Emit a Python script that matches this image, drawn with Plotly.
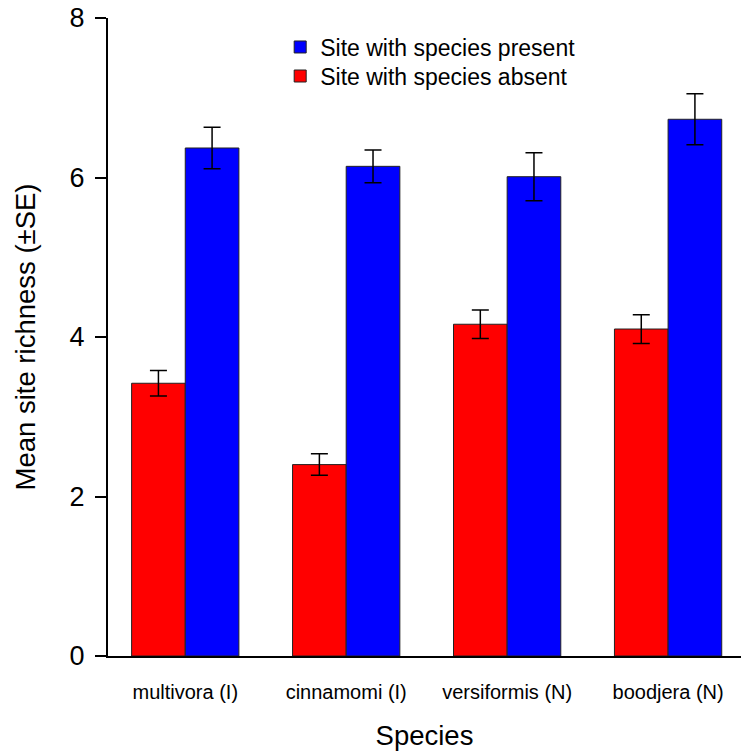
import plotly.graph_objects as go

species = ["multivora (I)", "cinnamomi (I)", "versiformis (N)", "boodjera (N)"]
absent_mean = [3.42, 2.40, 4.16, 4.10]
absent_se = [0.16, 0.135, 0.18, 0.18]
present_mean = [6.37, 6.14, 6.01, 6.73]
present_se = [0.26, 0.205, 0.30, 0.32]
y_ticks = [0, 2, 4, 6, 8]

FONT = "Liberation Sans, Arial, Helvetica, sans-serif"

fig = go.Figure()
fig.add_trace(go.Bar(
    x=species, y=absent_mean, name="Site with species absent",
    marker=dict(color="#FF0000", line=dict(color="#222222", width=1)),
    error_y=dict(type="data", array=absent_se, color="black", thickness=1.5, width=8.5),
    legend="legend2",
))
fig.add_trace(go.Bar(
    x=species, y=present_mean, name="Site with species present",
    marker=dict(color="#0000FF", line=dict(color="#222222", width=1)),
    error_y=dict(type="data", array=present_se, color="black", thickness=1.5, width=8.5),
    legend="legend",
))

leg_common = dict(xanchor="left", yanchor="middle", bgcolor="rgba(0,0,0,0)",
                  font=dict(size=23), itemwidth=30)

fig.update_layout(
    width=741, height=756,
    margin=dict(l=108, r=0, t=18, b=100),
    paper_bgcolor="white", plot_bgcolor="white",
    font=dict(family=FONT, color="black"),
    barmode="group", bargap=1/3, bargroupgap=0,
    showlegend=True,
    legend=dict(x=0.272, y=0.9545, **leg_common),
    legend2=dict(x=0.272, y=0.909, **leg_common),
    xaxis=dict(
        range=[-0.48, 3.453], automargin=False,
        showline=True, linecolor="black", linewidth=2,
        ticks="", tickfont=dict(size=20), ticklabelstandoff=17,
        showgrid=False, zeroline=False,
        title=dict(text="Species", font=dict(size=27.5), standoff=24),
    ),
    yaxis=dict(
        range=[0, 8], tickvals=y_ticks, automargin=False,
        showline=True, linecolor="black", linewidth=2,
        ticks="outside", ticklen=11, tickwidth=1.5, tickcolor="black",
        tickfont=dict(size=27), ticklabelstandoff=5, ticklabeloverflow="allow",
        showgrid=False, zeroline=False,
        title=dict(text="Mean site richness (±SE)", font=dict(size=27.5), standoff=26),
    ),
)

fig.write_html(
    "out.html",
    config={"displayModeBar": False},
    post_script="document.body.style.margin='0';document.body.style.overflow='hidden';",
)
